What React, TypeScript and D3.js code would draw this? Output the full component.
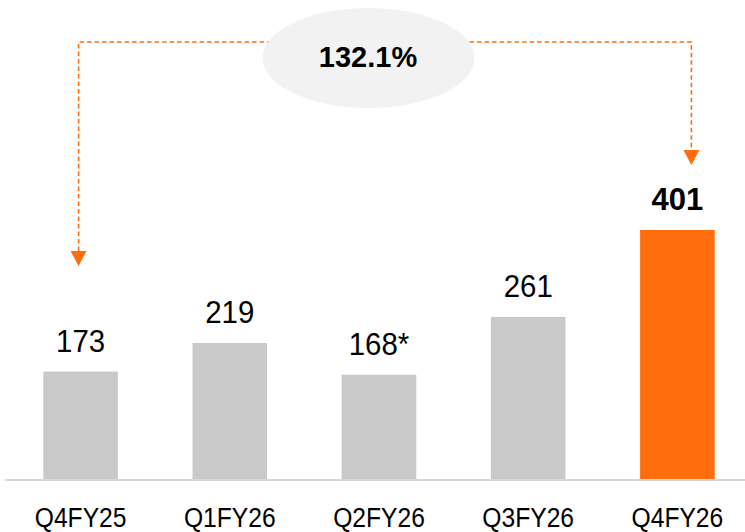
import React from "react";
import * as d3 from "d3";

const categories = ["Q4FY25", "Q1FY26", "Q2FY26", "Q3FY26", "Q4FY26"];
const values = [173, 219, 168, 261, 401];
const valueLabels = ["173", "219", "168*", "261", "401"];
const growthLabel = "132.1%";

const W = 745;
const H = 532;
const ORANGE = "#FF6D0D";
const GREY = "#C9C9C9";
const FONT = "'Liberation Sans', Arial, sans-serif";

export default function App() {
  const x = d3
    .scaleBand<string>()
    .domain(categories)
    .range([6, 752])
    .paddingInner(0.5)
    .paddingOuter(0.25);
  const baseline = 479;
  const y = d3.scaleLinear().domain([0, 401]).range([baseline, 230]);

  const firstC = (x(categories[0]) ?? 0) + x.bandwidth() / 2 - 2;
  const lastC = (x(categories[4]) ?? 0) + x.bandwidth() / 2 + 14;
  const lineY = 42;
  const leftTip = 266;
  const rightTip = 165;
  const ah = 15;
  const aw = 8;

  return (
    <svg
      width={W}
      height={H}
      style={{ position: "absolute", left: 0, top: 0, background: "#fff" }}
    >
      <path
        d={`M${firstC},${leftTip - ah} L${firstC},${lineY} L${lastC},${lineY} L${lastC},${rightTip - ah}`}
        fill="none"
        stroke={ORANGE}
        strokeWidth={1.6}
        strokeDasharray="4.5,3"
      />
      <path
        d={`M${firstC - aw},${leftTip - ah} L${firstC + aw},${leftTip - ah} L${firstC},${leftTip} Z`}
        fill={ORANGE}
      />
      <path
        d={`M${lastC - aw},${rightTip - ah} L${lastC + aw},${rightTip - ah} L${lastC},${rightTip} Z`}
        fill={ORANGE}
      />
      <ellipse cx={368.5} cy={58} rx={106} ry={50} fill="#F2F2F2" />
      <text
        x={368}
        y={67}
        textAnchor="middle"
        fontFamily={FONT}
        fontWeight="bold"
        fontSize={29}
        fill="#000"
      >
        {growthLabel}
      </text>

      {categories.map((c, i) => {
        const last = i === categories.length - 1;
        const bx = x(c) ?? 0;
        const cx = bx + x.bandwidth() / 2;
        return (
          <g key={c}>
            <rect
              x={bx}
              y={y(values[i])}
              width={x.bandwidth()}
              height={baseline - y(values[i])}
              fill={last ? ORANGE : GREY}
            />
            <text
              transform={`translate(${cx},${y(values[i]) - 20}) scale(${last ? 1 : 0.95},1)`}
              textAnchor="middle"
              fontFamily={FONT}
              fontWeight={last ? "bold" : "normal"}
              fontSize={31}
              fill="#000"
            >
              {valueLabels[i]}
            </text>
            <text
              transform={`translate(${cx},527) scale(0.88,1)`}
              textAnchor="middle"
              fontFamily={FONT}
              fontSize={28}
              fill="#000"
            >
              {c}
            </text>
          </g>
        );
      })}
      <line x1={5} x2={745} y1={baseline + 1} y2={baseline + 1} stroke="#D9D9D9" strokeWidth={2} />
    </svg>
  );
}
